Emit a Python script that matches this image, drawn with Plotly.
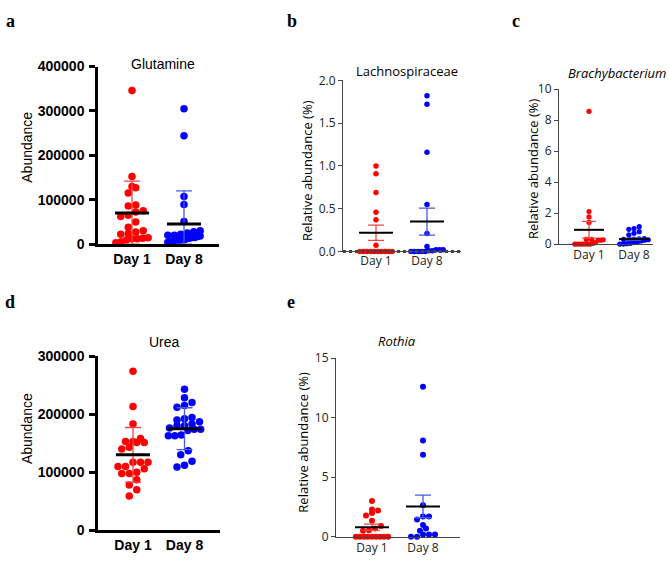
import plotly.graph_objects as go

W, H = 669, 571

categories = ["Day 1", "Day 8"]

# ---- data ----
glutamine_day1 = [346000, 152000, 130000, 127000, 115000, 88000, 86000, 75000, 72000, 65000,
                  62000, 50000, 38000, 30000, 27000, 24000, 22000, 14000, 13000, 12000,
                  12000, 10000, 5000, 3000]
glutamine_day8 = [305000, 244000, 107000, 89000, 51000, 30000, 28000, 25000, 22000, 20000,
                  20000, 18000, 17000, 15000, 15000, 13000, 12000, 10000, 10000, 8000,
                  7000, 5000, 5000, 4000]
glutamine_mean = [70000, 45000]
glutamine_err = [72000, 75000]

lachno_day1 = [1.0, 0.91, 0.69, 0.46, 0.37, 0.075, 0, 0, 0, 0, 0, 0, 0, 0, 0, 0]
lachno_day8 = [1.82, 1.72, 1.16, 0.55, 0.21, 0.06, 0.02, 0.02, 0.02, 0.01, 0.01, 0, 0, 0, 0, 0]
lachno_mean = [0.22, 0.35]
lachno_err = [0.089, 0.158]

brachy_day1 = [8.56, 2.1, 1.75, 1.4, 0.3, 0.3, 0.28, 0.25, 0.25, 0.1, 0.05, 0, 0, 0, 0, 0, 0, 0]
brachy_day8 = [1.12, 1.0, 0.95, 0.8, 0.7, 0.6, 0.35, 0.33, 0.32, 0.3, 0.3, 0.28, 0.25, 0.2,
               0.15, 0.1, 0.05, 0.02, 0, 0]
brachy_mean = [0.92, 0.32]
brachy_err = [0.54, 0.08]

urea_day1 = [274000, 213000, 183000, 158000, 151000, 151000, 153000, 153000, 143000, 140000,
             117000, 117000, 117000, 110000, 110000, 106000, 100000, 98000, 98000, 87000,
             78000, 70000, 59000]
urea_day8 = [243000, 228000, 220000, 215000, 212000, 194000, 192000, 190000, 187000, 183000,
             180000, 180000, 176000, 174000, 174000, 172000, 164000, 163000, 163000, 137000,
             130000, 119000, 112000, 109000]
urea_mean = [130000, 175000]
urea_err = [47000, 36000]

rothia_day1 = [3.0, 2.3, 2.2, 2.0, 1.8, 1.35, 0.9, 0.7, 0.55, 0.5, 0, 0, 0, 0, 0, 0, 0, 0, 0]
rothia_day8 = [12.6, 8.1, 6.9, 2.65, 1.7, 1.7, 1.45, 1.0, 0.7, 0.5, 0.2, 0.2, 0.2, 0, 0]
rothia_mean = [0.8, 2.55]
rothia_err = [0.26, 0.95]

RED = "#ff0000"
BLUE = "#0000ff"
RED_ERR = "rgb(238,70,70)"
BLUE_ERR = "rgb(70,90,225)"

panels = [
    dict(key="a", title="Glutamine", italic=False, d1=glutamine_day1, d8=glutamine_day8,
         mean=glutamine_mean, err=glutamine_err, ymax=400000, dtick=100000, tickfmt="d",
         ytitle="Abundance", bold=True,
         x0=98, x1=219, xd1=132, xd8=184, y0=242.3, ytop=59.3, msize=7.5, meanhw=17, caphw=8,
         title_xy=(163, 57), ytitle_xy=(27, 143), label_xy=(10, 12), sem=False),
    dict(key="b", title="Lachnospiraceae", italic=False, d1=lachno_day1, d8=lachno_day8,
         mean=lachno_mean, err=lachno_err, ymax=2.0, dtick=0.5, tickfmt=".1f",
         ytitle="Relative abundance (%)", bold=False,
         x0=343, x1=461, xd1=376, xd8=427, y0=250, ytop=73.5, msize=5.5, meanhw=17, caphw=8,
         title_xy=(407, 64), ytitle_xy=(307, 167), label_xy=(292, 12), sem=True),
    dict(key="c", title="Brachybacterium", italic=True, d1=brachy_day1, d8=brachy_day8,
         mean=brachy_mean, err=brachy_err, ymax=10, dtick=2, tickfmt="d",
         ytitle="Relative abundance (%)", bold=False,
         x0=559, x1=653, xd1=589, xd8=634, y0=242.3, ytop=82.5, msize=5.2, meanhw=15, caphw=7,
         title_xy=(617, 66), ytitle_xy=(533, 165), label_xy=(516, 12), sem=True),
    dict(key="d", title="Urea", italic=False, d1=urea_day1, d8=urea_day8,
         mean=urea_mean, err=urea_err, ymax=300000, dtick=100000, tickfmt="d",
         ytitle="Abundance", bold=True,
         x0=98, x1=220, xd1=133, xd8=184.5, y0=537.3, ytop=357.7, msize=7.5, meanhw=17, caphw=8,
         title_xy=(164, 343), ytitle_xy=(27, 433), label_xy=(10, 302), sem=False),
    dict(key="e", title="Rothia", italic=True, d1=rothia_day1, d8=rothia_day8,
         mean=rothia_mean, err=rothia_err, ymax=15, dtick=5, tickfmt="d",
         ytitle="Relative abundance (%)", bold=False,
         x0=336, x1=460, xd1=372, xd8=423, y0=544, ytop=360, msize=6, meanhw=17, caphw=8,
         title_xy=(397, 342), ytitle_xy=(303, 447), label_xy=(291, 302), sem=True),
]


def swarm_offsets(vals, dy, dx, maxw):
    """Prism-like column scatter: values closer than one dot diameter share a row."""
    order = sorted(range(len(vals)), key=lambda i: vals[i])
    offs = [0.0] * len(vals)
    rows, cur, start = [], [], None
    for i in order:
        if cur and vals[i] - start < dy * 0.9:
            cur.append(i)
        else:
            if cur:
                rows.append(cur)
            cur, start = [i], vals[i]
    if cur:
        rows.append(cur)
    for row in rows:
        m = len(row)
        step = dx
        if m > 1 and (m - 1) * dx > maxw:
            step = maxw / (m - 1)
        for k, i in enumerate(row):
            offs[i] = (k - (m - 1) / 2) * step
    return offs


fig = go.Figure()
annotations = []
shapes = []
SANS_B = "Liberation Sans, Arial, sans-serif"
SANS_L = "Open Sans, Noto Sans, sans-serif"

for n, p in enumerate(panels, start=1):
    xa = "x" if n == 1 else f"x{n}"
    ya = "y" if n == 1 else f"y{n}"
    unit = p["xd8"] - p["xd1"]
    xr = [1 - (p["xd1"] - p["x0"]) / unit, 2 + (p["x1"] - p["xd8"]) / unit]
    ypx_per = (p["y0"] - p["ytop"]) / p["ymax"]
    dy = p["msize"] / ypx_per
    dx = p["msize"] / unit
    maxw = 1.9 * p["meanhw"] / unit

    for gi, (vals, col, ecol) in enumerate([(p["d1"], RED, RED_ERR), (p["d8"], BLUE, BLUE_ERR)]):
        xc = gi + 1
        offs = swarm_offsets(vals, dy, dx, maxw)
        fig.add_trace(go.Scatter(
            x=[xc + o for o in offs], y=vals, mode="markers", xaxis=xa, yaxis=ya,
            marker=dict(color=col, size=p["msize"], line=dict(width=0)),
            cliponaxis=False, showlegend=False, hoverinfo="y"))
        m = p["mean"][gi]
        e = p["err"][gi]
        fig.add_trace(go.Scatter(
            x=[xc], y=[m], mode="markers", xaxis=xa, yaxis=ya,
            marker=dict(size=1, opacity=0),
            error_y=dict(type="data", array=[e], arrayminus=[min(e, m)], color=ecol,
                         thickness=1.3, width=p["caphw"]),
            cliponaxis=False, showlegend=False, hoverinfo="skip"))
        hw = p["meanhw"] / unit
        fig.add_trace(go.Scatter(
            x=[xc - hw, xc + hw], y=[m, m], mode="lines", xaxis=xa, yaxis=ya,
            line=dict(color="black", width=3 if p["bold"] else 2),
            cliponaxis=False, showlegend=False, hoverinfo="skip"))

    if p["bold"]:
        tfont = dict(family=SANS_B, size=14, color="black", weight="bold")
        lw, lc, tl = 2.5, "black", 6
    else:
        tfont = dict(family=SANS_L, size=12, color="#222")
        lw, lc, tl = 1, "#444", 4

    xaxis = dict(domain=[p["x0"] / W, p["x1"] / W], range=xr, anchor=ya,
                 tickvals=[1, 2], ticktext=categories, ticks="",
                 showline=(p["key"] != "b"), linewidth=lw, linecolor=lc,
                 showgrid=False, zeroline=False, tickfont=tfont, fixedrange=True)
    yaxis = dict(domain=[1 - p["y0"] / H, 1 - p["ytop"] / H], range=[0, p["ymax"]], anchor=xa,
                 tick0=0, dtick=p["dtick"], tickformat=p["tickfmt"], ticks="outside",
                 ticklen=tl, tickwidth=lw, tickcolor=lc, showline=True, linewidth=lw,
                 linecolor=lc, showgrid=False, zeroline=False, tickfont=tfont, fixedrange=True)
    if p["bold"]:
        yaxis["ticklabelstandoff"] = 2
    fig.update_layout({("xaxis" if n == 1 else f"xaxis{n}"): xaxis,
                       ("yaxis" if n == 1 else f"yaxis{n}"): yaxis})

    if p["key"] == "b":
        shapes.append(dict(type="line", xref="paper", yref="paper",
                           x0=p["x0"] / W, x1=p["x1"] / W, y0=1 - p["y0"] / H, y1=1 - p["y0"] / H,
                           line=dict(color="#444", width=1)))
        shapes.append(dict(type="line", xref="paper", yref="paper",
                           x0=p["x0"] / W, x1=p["x1"] / W, y0=1 - p["y0"] / H, y1=1 - p["y0"] / H,
                           line=dict(color="#444", width=3, dash="dot")))

    ttext = f"<i>{p['title']}</i>" if p["italic"] else p["title"]
    tfam = SANS_B if p["bold"] else SANS_L
    annotations.append(dict(text=ttext, x=p["title_xy"][0] / W, y=1 - p["title_xy"][1] / H,
                            xref="paper", yref="paper", showarrow=False, xanchor="center",
                            yanchor="middle", font=dict(family=tfam, size=14 if p["bold"] else 13,
                                                        color="black")))
    annotations.append(dict(text=p["ytitle"], x=p["ytitle_xy"][0] / W, y=1 - p["ytitle_xy"][1] / H,
                            xref="paper", yref="paper", showarrow=False, textangle=-90,
                            xanchor="center", yanchor="middle",
                            font=dict(family=tfam, size=14 if p["bold"] else 13, color="black")))
    annotations.append(dict(text=f"<b>{p['key']}</b>", x=p["label_xy"][0] / W,
                            y=1 - p["label_xy"][1] / H, xref="paper", yref="paper",
                            showarrow=False, xanchor="center", yanchor="middle",
                            font=dict(family="Liberation Serif, Times New Roman, serif", size=18,
                                      color="black")))

fig.update_layout(width=W, height=H, margin=dict(l=0, r=0, t=0, b=0),
                  paper_bgcolor="white", plot_bgcolor="white",
                  annotations=annotations, shapes=shapes, showlegend=False)

fig.write_html("out.html", config={"displayModeBar": False})
